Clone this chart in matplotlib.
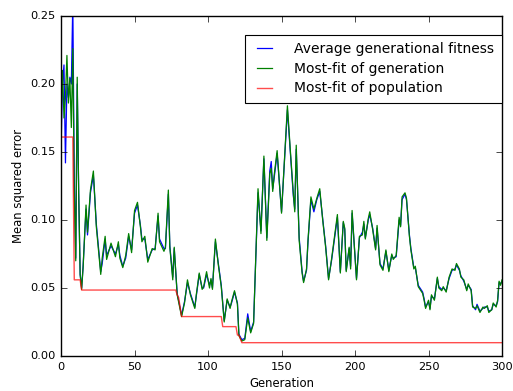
import matplotlib
matplotlib.use("Agg")
import matplotlib.pyplot as plt

plt.style.use("classic")

# ---------------------------------------------------------------------
# Data
# ---------------------------------------------------------------------
generations = [
    0, 1, 2, 3, 4, 5, 6, 7, 8, 9, 10, 11, 12, 13, 14, 15, 17, 18, 20, 22,
    24, 27, 28, 30, 31, 34, 37, 39, 40, 42, 44, 46, 48, 50, 52, 54, 55, 57,
    59, 62, 64, 66, 67, 70, 71, 73, 74, 76, 77, 79, 82, 84, 86, 88, 91, 92,
    94, 96, 97, 99, 101, 102, 103, 105, 107, 109, 111, 113, 115, 116, 118,
    120, 121, 123, 125, 127, 129, 131, 134, 136, 138, 140, 142, 143, 144,
    145, 147, 150, 154, 156, 158, 159, 160, 162, 164, 165, 167, 168, 170,
    172, 174, 176, 178, 180, 182, 184, 188, 190, 192, 193, 194, 196, 197,
    198, 201, 203, 205, 206, 207, 209, 210, 212, 214, 215, 217, 219, 221,
    223, 225, 226, 228, 230, 231, 232, 234, 235, 237, 238, 240, 241, 243,
    246, 247, 248, 250, 251, 252, 254, 256, 257, 259, 260, 262, 264, 266,
    268, 269, 271, 272, 274, 276, 277, 279, 280, 282, 283, 285, 287, 288,
    290, 291, 293, 294, 296, 297, 298, 299, 300,
]

most_fit_generation = [
    0.176, 0.210, 0.175, 0.190, 0.221, 0.186, 0.204, 0.168, 0.226, 0.120,
    0.070, 0.205, 0.120, 0.060, 0.049, 0.065, 0.111, 0.091, 0.122, 0.136,
    0.095, 0.060, 0.072, 0.088, 0.071, 0.083, 0.073, 0.084, 0.072, 0.065,
    0.074, 0.090, 0.076, 0.107, 0.113, 0.095, 0.084, 0.088, 0.069, 0.079,
    0.078, 0.105, 0.084, 0.077, 0.080, 0.122, 0.080, 0.056, 0.080, 0.045,
    0.029, 0.039, 0.056, 0.045, 0.035, 0.045, 0.061, 0.049, 0.051, 0.062,
    0.050, 0.057, 0.049, 0.086, 0.067, 0.051, 0.025, 0.042, 0.035, 0.040,
    0.048, 0.038, 0.015, 0.011, 0.012, 0.028, 0.017, 0.024, 0.123, 0.090,
    0.147, 0.085, 0.134, 0.138, 0.121, 0.133, 0.151, 0.105, 0.184, 0.151,
    0.120, 0.106, 0.155, 0.085, 0.061, 0.054, 0.064, 0.085, 0.117, 0.108,
    0.116, 0.123, 0.100, 0.080, 0.056, 0.071, 0.104, 0.061, 0.099, 0.094,
    0.062, 0.080, 0.064, 0.107, 0.056, 0.088, 0.089, 0.099, 0.086, 0.101,
    0.106, 0.093, 0.078, 0.096, 0.067, 0.063, 0.078, 0.062, 0.075, 0.071,
    0.074, 0.102, 0.095, 0.117, 0.120, 0.116, 0.088, 0.078, 0.064, 0.066,
    0.051, 0.046, 0.041, 0.035, 0.041, 0.034, 0.045, 0.041, 0.058, 0.050,
    0.048, 0.051, 0.047, 0.058, 0.064, 0.063, 0.068, 0.064, 0.058, 0.056,
    0.048, 0.053, 0.048, 0.036, 0.035, 0.037, 0.032, 0.036, 0.035, 0.037,
    0.032, 0.034, 0.039, 0.036, 0.041, 0.055, 0.052, 0.056,
]

average_fitness = [
    0.152, 0.200, 0.214, 0.142, 0.200, 0.190, 0.205, 0.200, 0.260, 0.130,
    0.072, 0.200, 0.120, 0.060, 0.050, 0.066, 0.108, 0.089, 0.120, 0.133,
    0.097, 0.062, 0.068, 0.086, 0.074, 0.081, 0.075, 0.082, 0.074, 0.066,
    0.072, 0.088, 0.078, 0.105, 0.111, 0.096, 0.086, 0.086, 0.071, 0.078,
    0.079, 0.103, 0.086, 0.079, 0.079, 0.119, 0.081, 0.058, 0.079, 0.046,
    0.030, 0.040, 0.054, 0.046, 0.036, 0.044, 0.060, 0.050, 0.050, 0.060,
    0.052, 0.056, 0.050, 0.084, 0.068, 0.052, 0.026, 0.041, 0.036, 0.039,
    0.047, 0.039, 0.016, 0.012, 0.013, 0.031, 0.018, 0.025, 0.120, 0.092,
    0.145, 0.087, 0.136, 0.143, 0.123, 0.131, 0.149, 0.106, 0.181, 0.150,
    0.118, 0.108, 0.152, 0.087, 0.062, 0.055, 0.063, 0.084, 0.115, 0.106,
    0.115, 0.121, 0.101, 0.081, 0.057, 0.070, 0.102, 0.062, 0.098, 0.093,
    0.063, 0.079, 0.066, 0.105, 0.057, 0.087, 0.091, 0.097, 0.087, 0.100,
    0.104, 0.094, 0.079, 0.094, 0.068, 0.064, 0.077, 0.063, 0.074, 0.072,
    0.073, 0.100, 0.096, 0.115, 0.119, 0.115, 0.089, 0.079, 0.065, 0.065,
    0.052, 0.047, 0.042, 0.036, 0.040, 0.035, 0.044, 0.042, 0.057, 0.051,
    0.049, 0.050, 0.048, 0.057, 0.063, 0.064, 0.067, 0.063, 0.059, 0.055,
    0.049, 0.052, 0.049, 0.037, 0.034, 0.038, 0.033, 0.035, 0.036, 0.036,
    0.033, 0.034, 0.038, 0.037, 0.040, 0.054, 0.053, 0.055,
]

population_gens = [0, 8, 9, 13, 14, 78, 79, 80, 82, 109, 110, 119, 120, 121, 123, 300]
most_fit_population = [
    0.161, 0.161, 0.056, 0.056, 0.0485, 0.0485, 0.045, 0.043, 0.029, 0.029,
    0.0216, 0.0216, 0.0154, 0.0154, 0.0098, 0.0098,
]

# ---------------------------------------------------------------------
# Plot
# ---------------------------------------------------------------------
fig = plt.figure(figsize=(5.13, 3.91), dpi=100)
ax = fig.add_axes([0.119, 0.0895, 0.8596, 0.8696])

ax.plot(generations, average_fitness, color="b", lw=0.9,
        label="Average generational fitness")
ax.plot(generations, most_fit_generation, color="g", lw=0.9,
        label="Most-fit of generation")
ax.plot(population_gens, most_fit_population, color="r", lw=1.0, alpha=0.7,
        label="Most-fit of population")

ax.set_xlim(0, 300)
ax.set_ylim(0, 0.25)
ax.set_xticks(range(0, 301, 50))
ax.set_yticks([0.0, 0.05, 0.10, 0.15, 0.20, 0.25])
ax.set_yticklabels(["0.00", "0.05", "0.10", "0.15", "0.20", "0.25"])
ax.tick_params(labelsize=8.2)

ax.set_xlabel("Generation", fontsize=8.4, labelpad=4)
ax.set_ylabel("Mean squared error", fontsize=8.4, labelpad=4)

leg = ax.legend(loc="upper right", bbox_to_anchor=(1.0, 0.945),
                borderaxespad=0, fontsize=10.0, handlelength=1.7,
                handletextpad=1.3, labelspacing=0.4, borderpad=0.55)
leg.get_frame().set_linewidth(0.8)

fig.savefig("out.png", dpi=100)
plt.close(fig)
